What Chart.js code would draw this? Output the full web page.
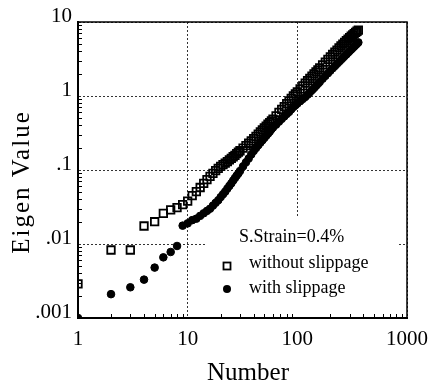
<!DOCTYPE html>
<html>
<head>
<meta charset="utf-8">
<script src="https://cdn.jsdelivr.net/npm/chart.js@4.4.1/dist/chart.umd.min.js"></script>
<style>
  html, body { margin: 0; padding: 0; background: #fff; }
  #chartContainer { width: 440px; height: 386px; }
</style>
</head>
<body>
<div id="chartContainer"><canvas id="myChart" width="440" height="386"></canvas></div>
<script>
// Eigenvalue number (shared by both series)
const rankNumbers = [
  1, 2, 3, 4, 5, 6, 7, 8, 9, 10, 11, 12, 13, 14, 15, 16, 17, 18, 19, 20,
  21, 22, 23, 24, 25, 26, 27, 28, 29, 30,
  32, 34, 36, 38, 40, 42, 44, 46, 48, 50, 52, 54, 56, 58, 60,
  64, 68, 72, 76, 80, 84, 88, 92, 96, 100,
  106, 112, 118, 124, 130, 136, 142, 148, 154, 160,
  170, 180, 190, 200, 210, 220, 230, 240, 250, 260,
  270, 280, 290, 300, 310, 320, 330, 340, 350, 360
];

// Eigen values, open squares
const withoutSlippage = [
  0.0029, 0.0083, 0.0083, 0.0175, 0.020, 0.026, 0.029, 0.031, 0.034, 0.038,
  0.045, 0.051, 0.058, 0.066, 0.074, 0.082, 0.090, 0.098, 0.105, 0.112,
  0.118, 0.124, 0.130, 0.137, 0.144, 0.151, 0.158, 0.166, 0.174, 0.182,
  0.197, 0.213, 0.230, 0.248, 0.266, 0.285, 0.305, 0.326, 0.348, 0.370, 0.392, 0.415, 0.438, 0.462, 0.487,
  0.54, 0.60, 0.66, 0.72, 0.79, 0.86, 0.93, 1.00, 1.07, 1.14,
  1.25, 1.37, 1.49, 1.61, 1.73, 1.86, 1.99, 2.12, 2.26, 2.40,
  2.63, 2.87, 3.12, 3.38, 3.64, 3.91, 4.18, 4.46, 4.74, 5.02,
  5.30, 5.58, 5.86, 6.14, 6.42, 6.70, 6.98, 7.25, 7.50, 7.75
];

// Eigen values, filled circles
const withSlippage = [
  0.001, 0.0021, 0.0026, 0.0033, 0.0048, 0.0066, 0.0078, 0.0094, 0.0177, 0.019,
  0.021, 0.022, 0.024, 0.026, 0.028, 0.030, 0.033, 0.036, 0.039, 0.043,
  0.047, 0.051, 0.056, 0.061, 0.066, 0.072, 0.078, 0.084, 0.090, 0.097,
  0.112, 0.127, 0.143, 0.162, 0.181, 0.198, 0.216, 0.234, 0.252, 0.271, 0.290, 0.310, 0.330, 0.355, 0.375,
  0.41, 0.45, 0.49, 0.53, 0.57, 0.61, 0.66, 0.71, 0.75, 0.79,
  0.85, 0.91, 0.97, 1.04, 1.12, 1.20, 1.28, 1.37, 1.46, 1.55,
  1.71, 1.87, 2.03, 2.20, 2.37, 2.54, 2.72, 2.90, 3.08, 3.27,
  3.46, 3.65, 3.85, 4.05, 4.25, 4.45, 4.66, 4.87, 5.08, 5.30
];

const xTickValues = [1, 10, 100, 1000];
const xTickLabels = ['1', '10', '100', '1000'];
const yTickValues = [0.001, 0.01, 0.1, 1, 10];
const yTickLabels = ['.001', '.01', '.1', '1', '10'];

const xTitle = 'Number';
const yTitle = 'Eigen Value';
const legendTitle = 'S.Strain=0.4%';
const seriesNames = ['without slippage', 'with slippage'];

const serif = '"Liberation Serif", "Times New Roman", serif';

// Frame, inward minor ticks, axis titles and the boxed legend
const decorPlugin = {
  id: 'decor',
  beforeDatasetsDraw(chart) {
    const ctx = chart.ctx;
    // white patch behind the legend hides the grid there
    ctx.save();
    ctx.fillStyle = '#fff';
    ctx.fillRect(207, 217, 190, 99);
    ctx.restore();
  },
  afterDraw(chart) {
    const ctx = chart.ctx;
    const a = chart.chartArea;
    const x = chart.scales.x;
    const y = chart.scales.y;

    ctx.save();
    ctx.strokeStyle = '#000';
    ctx.lineWidth = 1.5;
    ctx.strokeRect(a.left, a.top, a.right - a.left, a.bottom - a.top);

    // minor ticks pointing into the plot
    ctx.lineWidth = 1;
    ctx.beginPath();
    yTickValues.slice(0, -1).forEach(d => {
      for (let k = 2; k <= 9; k++) {
        const py = Math.round(y.getPixelForValue(k * d)) + 0.5;
        ctx.moveTo(a.left, py);
        ctx.lineTo(a.left + 4, py);
      }
    });
    xTickValues.slice(0, -1).forEach(d => {
      for (let k = 2; k <= 9; k++) {
        const px = Math.round(x.getPixelForValue(k * d)) + 0.5;
        ctx.moveTo(px, a.bottom);
        ctx.lineTo(px, a.bottom - 4);
      }
    });
    ctx.stroke();

    // axis titles
    ctx.fillStyle = '#000';
    ctx.font = '25px ' + serif;
    ctx.textAlign = 'center';
    ctx.textBaseline = 'alphabetic';
    ctx.fillText(xTitle, 248, 380);
    ctx.save();
    ctx.translate(29, 182);
    ctx.rotate(-Math.PI / 2);
    ctx.letterSpacing = '2px';
    ctx.fillText(yTitle, 0, 0);
    ctx.restore();

    // legend
    ctx.font = '18px ' + serif;
    ctx.textBaseline = 'middle';
    ctx.textAlign = 'left';
    ctx.fillText(legendTitle, 239, 237);
    ctx.fillText(seriesNames[0], 249, 263);
    ctx.fillText(seriesNames[1], 249, 288);

    ctx.lineWidth = 1.8;
    ctx.strokeRect(223.5, 262.5, 7, 7);
    ctx.beginPath();
    ctx.arc(227, 289, 4, 0, Math.PI * 2);
    ctx.fill();
    ctx.restore();
  }
};

const ctx = document.getElementById('myChart').getContext('2d');

const currentChart = new Chart(ctx, {
  type: 'scatter',
  data: {
    datasets: [
      {
        label: seriesNames[1],
        data: rankNumbers.map((n, i) => ({ x: n, y: withSlippage[i] })),
        pointStyle: 'circle',
        pointRadius: 3.8,
        backgroundColor: '#000',
        borderColor: '#000',
        borderWidth: 1
      },
      {
        label: seriesNames[0],
        data: rankNumbers.map((n, i) => ({ x: n, y: withoutSlippage[i] })),
        pointStyle: 'rect',
        pointRadius: 5.3,
        backgroundColor: 'rgba(255,255,255,0)',
        borderColor: '#000',
        borderWidth: 1.8
      }
    ]
  },
  options: {
    responsive: false,
    animation: false,
    events: [],
    layout: {
      padding: { top: 22, right: 33, left: 0, bottom: 0 }
    },
    scales: {
      x: {
        type: 'logarithmic',
        position: 'bottom',
        min: 1,
        max: 1000,
        afterBuildTicks: scale => {
          scale.ticks = xTickValues.map(v => ({ value: v }));
        },
        afterFit: scale => {
          scale.height = 68;
        },
        ticks: {
          callback: (value, index) => xTickLabels[index],
          font: { family: serif, size: 21 },
          color: '#000',
          padding: 9,
          maxRotation: 0,
          autoSkip: false
        },
        grid: { color: '#333', lineWidth: 1, drawTicks: false },
        border: { color: '#000', width: 2, dash: [2, 2] }
      },
      y: {
        type: 'logarithmic',
        position: 'left',
        min: 0.001,
        max: 10,
        afterBuildTicks: scale => {
          scale.ticks = yTickValues.map(v => ({ value: v }));
        },
        afterFit: scale => {
          scale.width = 78;
        },
        ticks: {
          callback: (value, index) => yTickLabels[index],
          font: { family: serif, size: 21 },
          color: '#000',
          padding: 6,
          labelOffset: -6,
          autoSkip: false
        },
        grid: { color: '#333', lineWidth: 1, drawTicks: false },
        border: { color: '#000', width: 2, dash: [2, 2] }
      }
    },
    plugins: {
      legend: { display: false },
      tooltip: { enabled: false }
    }
  },
  plugins: [decorPlugin]
});
</script>
</body>
</html>
